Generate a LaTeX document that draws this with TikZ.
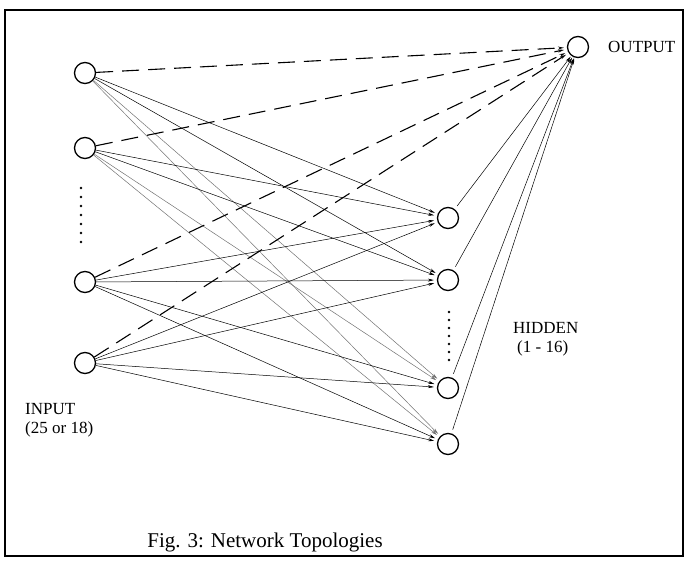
\documentclass[tikz,border=0pt]{standalone}
\usepackage{fontspec}
\setmainfont{Liberation Serif}
\usetikzlibrary{arrows.meta}
\begin{document}
\begin{tikzpicture}[x=1pt,y=-1pt,
  unit/.style={circle,draw,line width=1.3pt,minimum size=21pt,inner sep=0pt},
  link/.style={-{Stealth[length=6pt,width=3pt]},line width=0.5pt,shorten >=3pt},
  faint/.style={link,black!55},
  jump/.style={-{Stealth[length=6pt,width=3pt,open]},line width=1.1pt,dash pattern=on 17pt off 9pt,shorten >=3pt},
  feed/.style={-{Stealth[length=6pt,width=3pt]},line width=0.5pt,shorten <=4pt,shorten >=1pt},
  lbl/.style={font=\fontsize{17}{19}\selectfont,align=left,inner sep=0pt},
  dotmark/.style={circle,fill,inner sep=0pt,minimum size=2.6pt}]
\useasboundingbox (0,0) rectangle (693,562);
\draw[line width=1.2pt] (5,10) rectangle (683,556);

% input layer
\node[unit] (i1) at (85,73) {};
\node[unit] (i2) at (85,148) {};
\node[unit] (i3) at (85,282) {};
\node[unit] (i4) at (85,363) {};
% hidden layer
\node[unit] (h1) at (448,218) {};
\node[unit] (h2) at (448,280) {};
\node[unit] (h3) at (448,388) {};
\node[unit] (h4) at (448,444) {};
% output unit
\node[unit] (o) at (578,47) {};

% ellipsis dots
\foreach \k in {0,...,6} {
  \node[dotmark] (di\k) at (81,{188+9*\k}) {};
  \node[dotmark] (dh\k) at (449,{312+8*\k}) {};
}

% input -> hidden
\foreach \a in {1,2,3,4} {
  \foreach \b in {1,2,3,4} {
    \ifnum\a<3
      \ifnum\b>2 \draw[faint] (i\a) -- (h\b);
      \else \draw[link] (i\a) -- (h\b); \fi
    \else
      \draw[link] (i\a) -- (h\b);
    \fi
  }
}

% input -> output (direct, dashed)
\foreach \a in {1,2,3,4} \draw[jump] (i\a) -- (o);

% hidden -> output
\foreach \b in {1,2,3,4} \draw[feed] (h\b) -- (o);

% labels
\node[lbl,anchor=west] (lo) at (608,47) {OUTPUT};
\node[lbl,anchor=north west] (li) at (25,403) {INPUT\\(25 or 18)};
\node[lbl,anchor=north west] (lh) at (513,322) {HIDDEN\\\hspace*{4pt}(1 - 16)};
\node[font=\fontsize{21}{24}\selectfont,inner sep=0pt] (cap) at (265,542) {Fig. 3: Network Topologies};
\end{tikzpicture}
\end{document}
